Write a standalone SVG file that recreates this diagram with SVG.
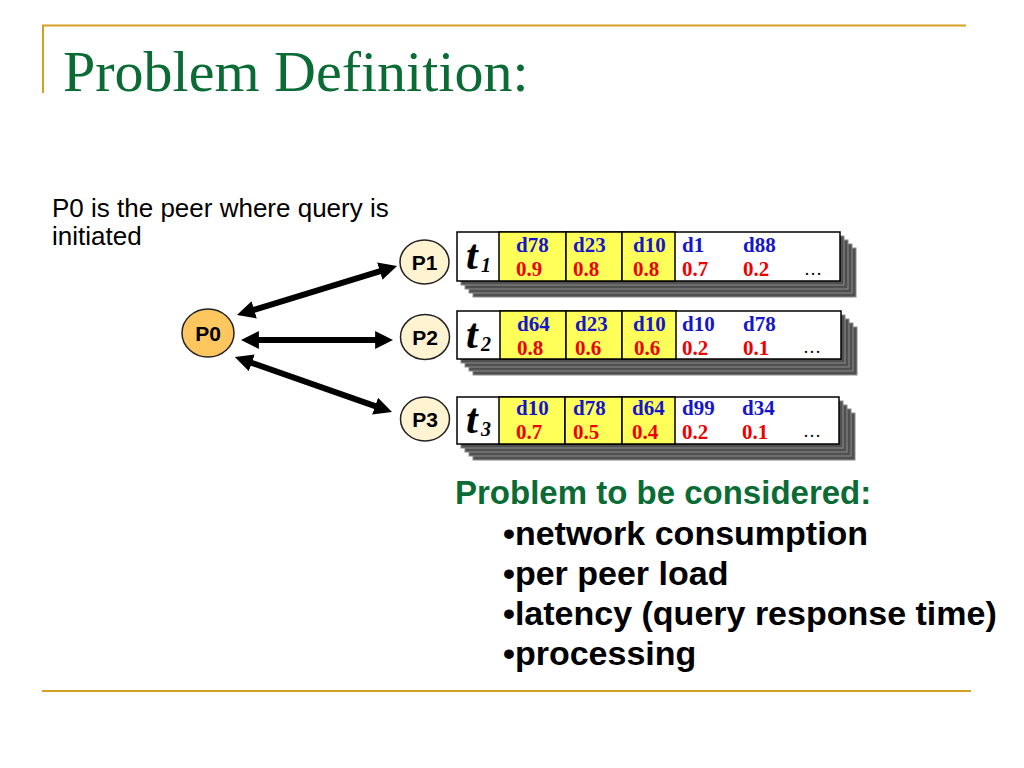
<svg xmlns="http://www.w3.org/2000/svg" width="1024" height="768" viewBox="0 0 1024 768">
<defs>
<style>
.title{font-family:"Liberation Serif",serif;font-size:58px;fill:#0B6B35}
.note{font-family:"Liberation Sans",Arial,sans-serif;font-size:26px;fill:#000}
.node circle,.node ellipse{stroke:#222;stroke-width:1.5}
.nlabel{font-family:"Liberation Sans",Arial,sans-serif;font-size:21px;font-weight:bold;fill:#000;text-anchor:middle}
.shadow{fill:#505050;stroke:#8c8c8c;stroke-width:1}
.cell{stroke:#000;stroke-width:1.5}
.yel{fill:#FFFF5A}
.wht{fill:#fff}
.d{font-family:"Liberation Serif",serif;font-size:21px;font-weight:bold;fill:#1515CC}
.v{font-family:"Liberation Serif",serif;font-size:21px;font-weight:bold;fill:#EE0000}
.dots{font-family:"Liberation Serif",serif;font-size:18px;fill:#000}
.t{font-family:"Liberation Serif",serif;font-size:42px;font-weight:bold;font-style:italic;fill:#000}
.sub{font-family:"Liberation Serif",serif;font-size:20px;font-weight:bold;font-style:italic;fill:#000}
.head{font-family:"Liberation Sans",Arial,sans-serif;font-size:33px;font-weight:bold;fill:#0B6B35}
.bul{font-family:"Liberation Sans",Arial,sans-serif;font-size:34px;font-weight:bold;fill:#000}
.rule{stroke:#D4A020;stroke-width:2}
.conn{stroke:#000;stroke-width:6;fill:none;marker-start:url(#ah);marker-end:url(#ah)}
</style>
<marker id="ah" viewBox="0 0 10 10" refX="5.5" refY="5" markerWidth="18" markerHeight="19" markerUnits="userSpaceOnUse" orient="auto-start-reverse">
<path d="M0,0 L10,5 L0,10 z" fill="#000"/>
</marker>
</defs>
<rect width="1024" height="768" fill="#fff"/>

<g id="frame">
<line class="rule" x1="42" y1="25.5" x2="966" y2="25.5"/>
<line class="rule" x1="43" y1="25" x2="43" y2="93"/>
<line class="rule" x1="42" y1="691" x2="971" y2="691"/>
</g>

<text class="title" x="63" y="91">Problem Definition:</text>
<text class="note" x="52" y="217">P0 is the peer where query is</text>
<text class="note" x="52" y="245">initiated</text>

<g id="connectors">
<line class="conn" x1="244.7" y1="312.7" x2="389.3" y2="268.3"/>
<line class="conn" x1="249" y1="340" x2="385" y2="340"/>
<line class="conn" x1="242.5" y1="359.6" x2="384.4" y2="409.4"/>
</g>

<g id="P0" class="node">
<ellipse cx="208" cy="333" rx="26" ry="24" fill="#FDC65F"/>
<text class="nlabel" x="208" y="340.5">P0</text>
</g>
<g id="P1" class="node">
<ellipse cx="424.5" cy="262" rx="24.5" ry="22" fill="#FFF3D2"/>
<text class="nlabel" x="424.5" y="269.5">P1</text>
</g>
<g id="P2" class="node">
<ellipse cx="425" cy="337" rx="24.5" ry="22.5" fill="#FFF3D2"/>
<text class="nlabel" x="425" y="344.5">P2</text>
</g>
<g id="P3" class="node">
<ellipse cx="425" cy="419" rx="24.5" ry="22" fill="#FFF3D2"/>
<text class="nlabel" x="425" y="426.5">P3</text>
</g>

<g id="list1">
<rect class="shadow" x="473" y="248" width="383" height="49"/>
<rect class="shadow" x="469" y="244" width="383" height="49"/>
<rect class="shadow" x="465" y="240" width="383" height="49"/>
<rect class="shadow" x="461" y="236" width="383" height="49"/>
<rect class="cell wht" x="457" y="232" width="383" height="49"/>
<rect class="cell yel" x="499" y="232" width="67" height="49"/>
<rect class="cell yel" x="566" y="232" width="56" height="49"/>
<rect class="cell yel" x="622" y="232" width="53" height="49"/>
<text class="t" x="466" y="269">t</text><text class="sub" x="481" y="272">1</text>
<text class="d" x="516" y="252">d78</text><text class="v" x="516" y="276">0.9</text>
<text class="d" x="573" y="252">d23</text><text class="v" x="573" y="276">0.8</text>
<text class="d" x="633" y="252">d10</text><text class="v" x="633" y="276">0.8</text>
<text class="d" x="682" y="252">d1</text><text class="v" x="682" y="276">0.7</text>
<text class="d" x="743" y="252">d88</text><text class="v" x="743" y="276">0.2</text>
<text class="dots" x="804" y="275">…</text>
</g>

<g id="list2">
<rect class="shadow" x="473" y="327" width="384" height="48"/>
<rect class="shadow" x="469" y="323" width="384" height="48"/>
<rect class="shadow" x="465" y="319" width="384" height="48"/>
<rect class="shadow" x="461" y="315" width="384" height="48"/>
<rect class="cell wht" x="457" y="311" width="384" height="48"/>
<rect class="cell yel" x="500" y="311" width="66" height="48"/>
<rect class="cell yel" x="566" y="311" width="56" height="48"/>
<rect class="cell yel" x="622" y="311" width="54" height="48"/>
<text class="t" x="466" y="348">t</text><text class="sub" x="481" y="351">2</text>
<text class="d" x="517" y="331">d64</text><text class="v" x="517" y="355">0.8</text>
<text class="d" x="575" y="331">d23</text><text class="v" x="575" y="355">0.6</text>
<text class="d" x="633" y="331">d10</text><text class="v" x="634" y="355">0.6</text>
<text class="d" x="682" y="331">d10</text><text class="v" x="682" y="355">0.2</text>
<text class="d" x="743" y="331">d78</text><text class="v" x="743" y="355">0.1</text>
<text class="dots" x="803" y="353">…</text>
</g>

<g id="list3">
<rect class="shadow" x="473" y="413" width="382" height="47"/>
<rect class="shadow" x="469" y="409" width="382" height="47"/>
<rect class="shadow" x="465" y="405" width="382" height="47"/>
<rect class="shadow" x="461" y="401" width="382" height="47"/>
<rect class="cell wht" x="457" y="397" width="382" height="47"/>
<rect class="cell yel" x="499" y="397" width="66" height="47"/>
<rect class="cell yel" x="565" y="397" width="57" height="47"/>
<rect class="cell yel" x="622" y="397" width="53" height="47"/>
<text class="t" x="466" y="433">t</text><text class="sub" x="481" y="436">3</text>
<text class="d" x="516" y="415">d10</text><text class="v" x="516" y="439">0.7</text>
<text class="d" x="573" y="415">d78</text><text class="v" x="573" y="439">0.5</text>
<text class="d" x="632" y="415">d64</text><text class="v" x="632" y="439">0.4</text>
<text class="d" x="682" y="415">d99</text><text class="v" x="682" y="439">0.2</text>
<text class="d" x="742" y="415">d34</text><text class="v" x="742" y="439">0.1</text>
<text class="dots" x="803" y="437">…</text>
</g>

<text class="head" x="455" y="504">Problem to be considered:</text>
<text class="bul" x="503" y="545">•network consumption</text>
<text class="bul" x="503" y="585">•per peer load</text>
<text class="bul" x="503" y="625">•latency (query response time)</text>
<text class="bul" x="503" y="665">•processing</text>
</svg>
